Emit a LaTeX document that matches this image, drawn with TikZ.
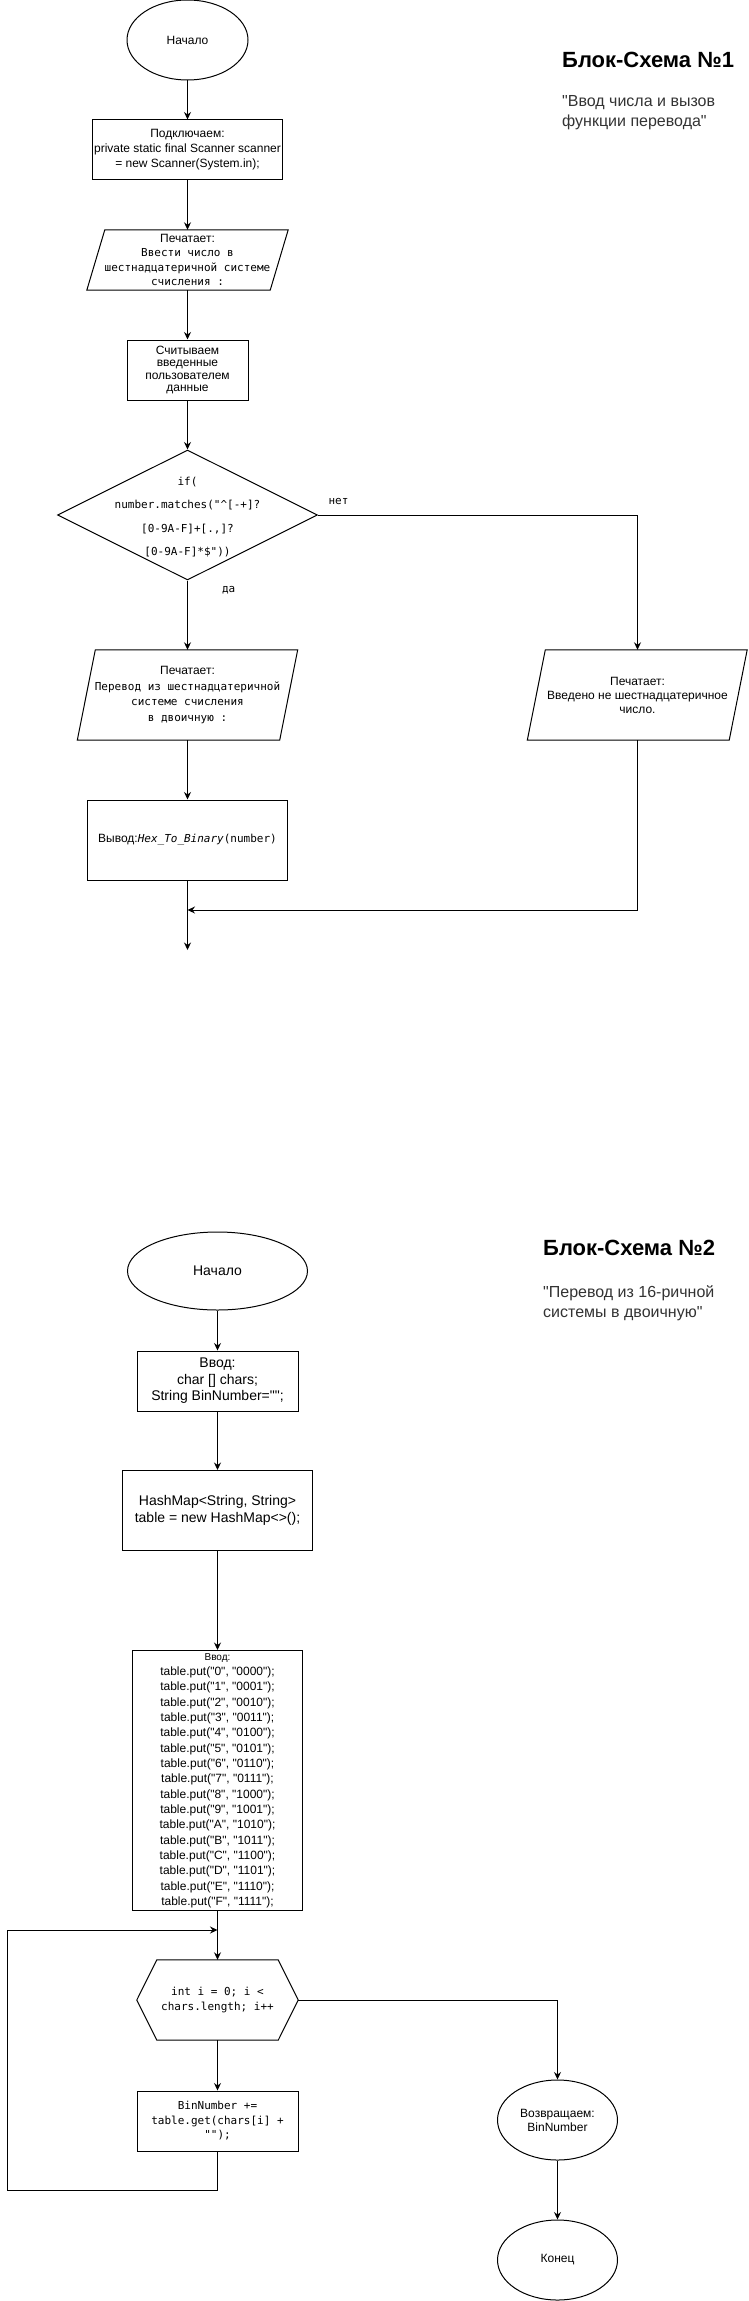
\documentclass[tikz,border=0pt]{standalone}
\usepackage{fontspec}
\setmainfont{Liberation Sans}
\newfontfamily\sansf{Liberation Sans}
\newfontfamily\monof{DejaVu Sans Mono}
\usetikzlibrary{shapes.geometric,arrows.meta,calc}
\newcommand{\myfs}[2]{\fontsize{#1}{#2}\selectfont}
\begin{document}
\begin{tikzpicture}[x=1pt,y=-1pt,
  ln/.style={line width=1pt},
  arr/.style={line width=1pt,-{Stealth[length=7.5pt,width=7pt,inset=2.5pt]}},
  box/.style={draw,line width=1pt,rectangle,inner sep=0pt,align=center,font=\sansf\myfs{12}{14.5}},
  txt/.style={rectangle,inner sep=0pt,align=center,font=\sansf\myfs{12}{14.5}},
  ell/.style={draw,line width=1pt,ellipse,inner sep=0pt,align=center,font=\sansf\myfs{12}{14}},
  lbl/.style={inner sep=0pt,font=\monof\myfs{11}{13}},
  ttl/.style={anchor=base west,inner sep=0pt,font=\sansf\bfseries\myfs{22}{26}},
  sub/.style={anchor=north west,inner sep=0pt,align=left,font=\sansf\myfs{16}{19.5},text=black!80}
]
\useasboundingbox (0,0) rectangle (748,2301);

% ---------------- Block diagram 1 ----------------
\node[ttl] (t1) at (562,68) {Блок-Схема №1};
\node[sub] (st1) at (562,95.5) {"Ввод числа и вызов\\функции перевода"};

\node[ell, minimum width=121, minimum height=80] (s1) at (187.5,40) {Начало};
\node[box, minimum width=190, minimum height=60, font=\sansf\myfs{12}{15}] (c1) at (187.5,150)
  {Подключаем:\\private static final Scanner scanner\\= new Scanner(System.in);};
\node[txt, minimum width=201, minimum height=60, font=\monof\myfs{11}{14.5}] (p1) at (187.5,260)
  {{\sansf\myfs{12}{14.5}Печатает:}\\Ввести число в\\шестнадцатеричной системе\\счисления :};
\draw[ln] ([xshift=18pt]p1.north west) -- (p1.north east) -- ([xshift=-18pt]p1.south east) -- (p1.south west) -- cycle;
\node[box, minimum width=121, minimum height=60, font=\sansf\myfs{12}{12.5}] (r1) at (187.5,370)
  {Считываем\\введенные\\пользователем\\данные};
\node[diamond, draw, line width=1pt, minimum width=260, minimum height=130, inner sep=0pt] (d1) at (187.5,515) {};
\node[txt, font=\monof\myfs{11}{23.3}] (d1t) at ([yshift=-2pt]d1.center)
  {if(\\number.matches("\textasciicircum[-+]?\\{}[0-9A-F]+[.,]?\\{}[0-9A-F]*\$"))};
\node[txt, minimum width=220, minimum height=90, font=\monof\myfs{11}{15.5}] (p2) at (187.5,695)
  {{\sansf\myfs{12}{15.5}Печатает:}\\Перевод из шестнадцатеричной\\системе счисления\\в двоичную :};
\draw[ln] ([xshift=18pt]p2.north west) -- (p2.north east) -- ([xshift=-18pt]p2.south east) -- (p2.south west) -- cycle;
\node[txt, minimum width=220, minimum height=90, font=\sansf\myfs{12}{14}] (p3) at (637.5,695)
  {Печатает:\\Введено не шестнадцатеричное\\число.};
\draw[ln] ([xshift=18pt]p3.north west) -- ([xshift=-0.5pt]p3.north east) -- ([xshift=-18.5pt]p3.south east) -- (p3.south west) -- cycle;
\node[box, minimum width=200, minimum height=80] (o1) at (187.5,840)
  {Вывод:{\monof\myfs{11}{13}\itshape Hex\_To\_Binary}{\monof\myfs{11}{13}(number)}};
\coordinate (m1) at (187.5,910);
\coordinate (e1) at (187.5,950);

\draw[arr] (s1) -- (c1);
\draw[arr] (c1) -- (p1.north);
\draw[arr] (p1.south) -- (r1);
\draw[arr] (r1) -- (d1);
\draw[arr] (d1.south) -- node[lbl, pos=0.14, right=34pt] {да} (p2.north);
\draw[arr] (d1.east) -| node[lbl, pos=0.032, above=10pt] {нет} (p3.north);
\draw[arr] (p2.south) -- (o1);
\draw[arr] (o1) -- (e1);
\draw[arr] (p3.south) |- (m1);

% ---------------- Block diagram 2 ----------------
\node[ttl] (t2) at (543,1255) {Блок-Схема №2};
\node[sub] (st2) at (543,1285.5) {"Перевод из 16-ричной\\системы в двоичную"};

\node[ell, minimum width=180, minimum height=78, font=\sansf\myfs{14}{16}] (s2) at (217.5,1271) {Начало};
\node[box, minimum width=161, minimum height=60, font=\sansf\myfs{14}{16.5}] (v2) at (217.5,1381)
  {Ввод:\\char [] chars;\\String BinNumber="";};
\node[box, minimum width=190, minimum height=80, font=\sansf\myfs{14}{17}] (h2) at (217.5,1510.5)
  {HashMap<String, String>\\table = new HashMap<>();};
\node[box, minimum width=170, minimum height=260, font=\sansf\myfs{12}{15.33}] (tb) at (217.5,1780.5)
  {{\myfs{10}{15.33}Ввод:}\\
   table.put("0", "0000");\\table.put("1", "0001");\\table.put("2", "0010");\\table.put("3", "0011");\\
   table.put("4", "0100");\\table.put("5", "0101");\\table.put("6", "0110");\\table.put("7", "0111");\\
   table.put("8", "1000");\\table.put("9", "1001");\\table.put("A", "1010");\\table.put("B", "1011");\\
   table.put("C", "1100");\\table.put("D", "1101");\\table.put("E", "1110");\\table.put("F", "1111");};
\node[txt, minimum width=161, minimum height=80, font=\monof\myfs{11}{15}] (hx) at (217.5,2000)
  {int i = 0; i <\\chars.length; i++};
\draw[ln] (hx.west) -- ([xshift=20pt]hx.north west) -- ([xshift=-20pt]hx.north east) -- (hx.east)
  -- ([xshift=-20pt]hx.south east) -- ([xshift=20pt]hx.south west) -- cycle;
\node[box, minimum width=161, minimum height=60, font=\monof\myfs{11}{14.5}] (bn) at (217.5,2121)
  {BinNumber +=\\table.get(chars[i] +\\"");};
\node[ell, minimum width=120, minimum height=80] (rt) at (557.5,2120) {Возвращаем:\\BinNumber};
\node[ell, minimum width=120, minimum height=80] (en) at (557.5,2260) {Конец};
\coordinate (lb) at (7,2190);
\coordinate (lt) at (7,1930);
\coordinate (lm) at (217.5,1930);

\draw[arr] (s2) -- (v2);
\draw[arr] (v2) -- (h2);
\draw[arr] (h2) -- (tb);
\draw[arr] (tb.south) -- (hx.north);
\draw[arr] (hx.south) -- (bn.north);
\draw[arr] (hx.east) -| (rt.north);
\draw[arr] (rt) -- (en);
\draw[arr] (bn.south) |- (lb) -- (lt) -- (lm);
\end{tikzpicture}
\end{document}
